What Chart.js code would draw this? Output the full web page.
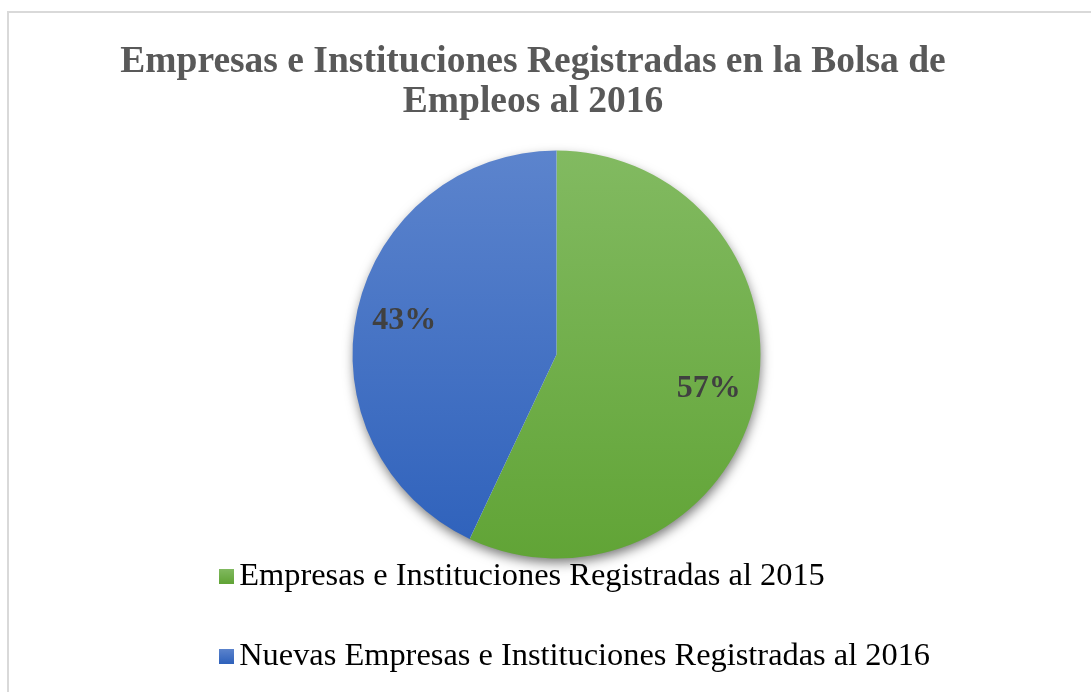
<!DOCTYPE html>
<html>
<head>
<meta charset="utf-8">
<script src="https://cdn.jsdelivr.net/npm/chart.js@4.4.1/dist/chart.umd.min.js"></script>
<style>
  body { margin: 0; background: #fff; }
  #marco { position: absolute; left: 7px; top: 11px; width: 1100px; height: 700px;
           border-left: 2px solid #d9d9d9; border-top: 2px solid #d9d9d9; }
  #lienzo { position: absolute; left: 0; top: 0; }
</style>
</head>
<body>
<div id="marco"></div>
<canvas id="lienzo" width="1091" height="692"></canvas>
<script>
const categorias = [
    'Empresas e Instituciones Registradas al 2015',
    'Nuevas Empresas e Instituciones Registradas al 2016'
];
const valores = [57, 43];
const titulo = ['Empresas e Instituciones Registradas en la Bolsa de', 'Empleos al 2016'];

const coloresArriba = ['#82ba61', '#5c84cd'];
const coloresAbajo = ['#61a436', '#2e61bb'];
const RADIO = 204;
const serif = '"Liberation Serif", "Times New Roman", serif';

// degradado vertical de arriba a abajo del circulo
function relleno(context) {
    const area = context.chart.chartArea;
    const i = context.dataIndex;
    if (!area) return coloresAbajo[i];
    const cy = (area.top + area.bottom) / 2;
    const g = context.chart.ctx.createLinearGradient(0, cy - RADIO, 0, cy + RADIO);
    g.addColorStop(0, coloresArriba[i]);
    g.addColorStop(1, coloresAbajo[i]);
    return g;
}

// cuadrito de la leyenda, corrido a la derecha dentro de la imagen
function cuadrito(i) {
    const c = document.createElement('canvas');
    c.width = 40;
    c.height = 15;
    const x = c.getContext('2d');
    const g = x.createLinearGradient(0, 0, 0, 15);
    g.addColorStop(0, coloresArriba[i]);
    g.addColorStop(1, coloresAbajo[i]);
    x.fillStyle = g;
    x.fillRect(25, 0, 15, 15);
    return c;
}

// sombra bajo la torta
const sombra = {
    id: 'sombra',
    beforeDatasetsDraw(chart) {
        const arco = chart.getDatasetMeta(0).data[0];
        if (!arco) return;
        const ctx = chart.ctx;
        ctx.save();
        ctx.shadowColor = 'rgba(0,0,0,0.55)';
        ctx.shadowBlur = 12;
        ctx.shadowOffsetX = 1;
        ctx.shadowOffsetY = 5;
        ctx.fillStyle = '#ffffff';
        ctx.beginPath();
        ctx.arc(arco.x, arco.y, arco.outerRadius - 1, 0, Math.PI * 2);
        ctx.fill();
        ctx.restore();
    }
};

// porcentajes sobre cada porcion
const etiquetas = {
    id: 'etiquetas',
    afterDatasetsDraw(chart) {
        const ctx = chart.ctx;
        const total = valores.reduce((a, b) => a + b, 0);
        ctx.save();
        ctx.font = 'bold 32px ' + serif;
        ctx.fillStyle = '#404040';
        ctx.textAlign = 'center';
        ctx.textBaseline = 'middle';
        chart.getDatasetMeta(0).data.forEach((arco, i) => {
            const medio = (arco.startAngle + arco.endAngle) / 2;
            const r = arco.outerRadius * 0.765;
            const texto = Math.round(valores[i] / total * 100) + '%';
            ctx.fillText(texto, arco.x + Math.cos(medio) * r, arco.y + Math.sin(medio) * r);
        });
        ctx.restore();
    }
};

new Chart(document.getElementById('lienzo'), {
    type: 'pie',
    data: {
        labels: categorias,
        datasets: [{
            data: valores,
            backgroundColor: relleno,
            borderWidth: 0,
            radius: RADIO,
            clip: false
        }]
    },
    options: {
        responsive: false,
        animation: false,
        layout: { padding: { left: 110, right: 135, top: 0, bottom: 9.4 } },
        // eje vacio a la izquierda para correr la torta a la derecha
        scales: {
            y: {
                type: 'linear',
                position: 'left',
                ticks: { display: false },
                grid: { display: false },
                border: { display: false },
                afterFit: (eje) => { eje.width = 47; }
            }
        },
        plugins: {
            title: {
                display: true,
                text: titulo,
                color: '#595959',
                font: { family: serif, size: 37.5, weight: 'bold', lineHeight: 1.053 },
                padding: { top: 43, bottom: 75.2 }
            },
            legend: {
                position: 'bottom',
                align: 'start',
                fullSize: false,
                labels: {
                    color: '#595959',
                    font: { family: serif, size: 32.4 },
                    usePointStyle: true,
                    pointStyleWidth: 18,
                    boxHeight: 15,
                    padding: 48,
                    generateLabels: () => categorias.map((c, i) => ({
                        text: c,
                        pointStyle: cuadrito(i),
                        fillStyle: coloresAbajo[i],
                        strokeStyle: coloresAbajo[i],
                        lineWidth: 0,
                        index: i
                    }))
                }
            },
            tooltip: { enabled: false }
        }
    },
    plugins: [sombra, etiquetas]
});
</script>
</body>
</html>
